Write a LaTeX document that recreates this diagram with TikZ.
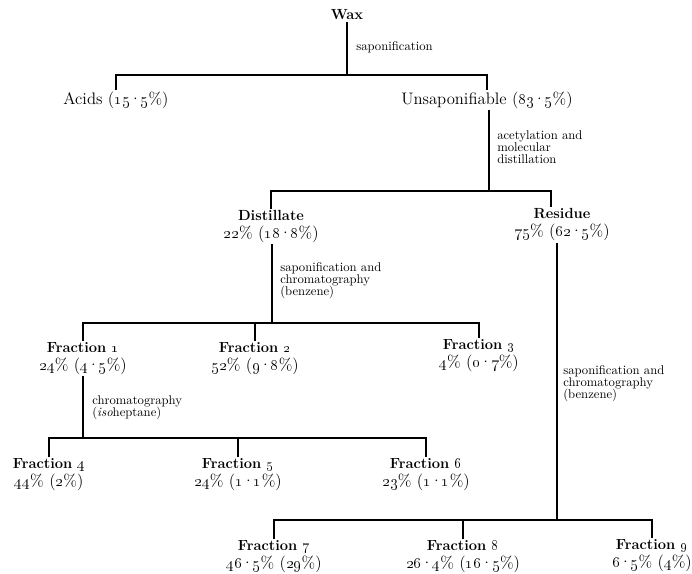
\documentclass[tikz,border=0pt]{standalone}
\newcommand\os[1]{\oldstylenums{#1}}
\newcommand\dd{\kern-0.7pt·\kern-0.7pt}
\newcommand\pc[1]{{\mdseries\fontsize{12.5}{13.5}\selectfont #1}}
\tikzset{
  px/.style={x=0.75pt,y=-0.75pt},
  nm/.style={inner sep=1pt, align=center, font=\fontsize{11}{13.5}\selectfont\bfseries},
  nr/.style={inner sep=1pt, align=center, font=\fontsize{12.5}{13.5}\selectfont},
  lab/.style={inner sep=0pt, anchor=north west, align=left, font=\fontsize{9.5}{9.3}\selectfont},
  ln/.style={line width=1.5pt},
}
\begin{document}
\begin{tikzpicture}[px]
\useasboundingbox (0,0) rectangle (692,574);

% nodes
\node[nm] (wax) at (347,15) {Wax};
\node[nr] (acids) at (116,100) {Acids (\os{15}\dd\os{5}\%)};
\node[nr] (unsap) at (487,100) {Unsaponifiable (\os{83}\dd\os{5}\%)};
\node[nm] (dist) at (271,226.5) {Distillate\\\pc{\os{22}\% (\os{18}\dd\os{8}\%)}};
\node[nm] (res) at (562,225) {Residue\\\pc{\os{75}\% (\os{62}\dd\os{5}\%)}};
\node[nm] (f1) at (83,358.5) {Fraction \os{1}\\\pc{\os{24}\% (\os{4}\dd\os{5}\%)}};
\node[nm] (f2) at (255,358.5) {Fraction \os{2}\\\pc{\os{52}\% (\os{9}\dd\os{8}\%)}};
\node[nm] (f3) at (479,356) {Fraction \os{3}\\\pc{\os{4}\% (\os{0}\dd\os{7}\%)}};
\node[nm] (f4) at (49,475) {Fraction \os{4}\\\pc{\os{44}\% (\os{2}\%)}};
\node[nm] (f5) at (238,475) {Fraction \os{5}\\\pc{\os{24}\% (\os{1}\dd\os{1}\%)}};
\node[nm] (f6) at (426,475) {Fraction \os{6}\\\pc{\os{23}\% (\os{1}\dd\os{1}\%)}};
\node[nm] (f7) at (274,557) {Fraction \os{7}\\\pc{\os{46}\dd\os{5}\% (\os{29}\%)}};
\node[nm] (f8) at (463,557) {Fraction \os{8}\\\pc{\os{26}\dd\os{4}\% (\os{16}\dd\os{5}\%)}};
\node[nm] (f9) at (652,556) {Fraction \os{9}\\\pc{\os{6}\dd\os{5}\% (\os{4}\%)}};

% step labels
\node[lab] (l1) at (356,41) {saponification};
\node[lab] (l2) at (497,130) {acetylation and\\molecular\\distillation};
\node[lab] (l3) at (280,262) {saponification and\\chromatography\\(benzene)};
\node[lab] (l4) at (92,395) {chromatography\\(\textit{iso}heptane)};
\node[lab] (l5) at (563,365) {saponification and\\chromatography\\(benzene)};

% junctions
\coordinate (b1) at (347,75);
\coordinate (b2) at (489,191);
\coordinate (r2) at (551,191);
\coordinate (b3) at (272,323);
\coordinate (b4) at (83,438);
\coordinate (b5) at (557,520);

% connectors
\draw[ln] (wax) -- (b1);
\draw[ln] (acids) |- (b1) -| (unsap);
\draw[ln] (unsap.south -| b2) -- (b2);
\draw[ln] (dist) |- (r2) -- (r2 |- res.north);
\draw[ln] (dist.south -| b3) -- (b3);
\draw[ln] (f1) |- (b3) -| (f3);
\draw[ln] (f2) -- (f2 |- b3);
\draw[ln] (f1.south -| b4) -- (b4);
\draw[ln] (f4) |- (b4) -| (f6);
\draw[ln] (f5) -- (f5 |- b4);
\draw[ln] (b5 |- res.south) -- (b5);
\draw[ln] (f7) |- (b5) -| (f9);
\draw[ln] (f8) -- (f8 |- b5);
\end{tikzpicture}
\end{document}
